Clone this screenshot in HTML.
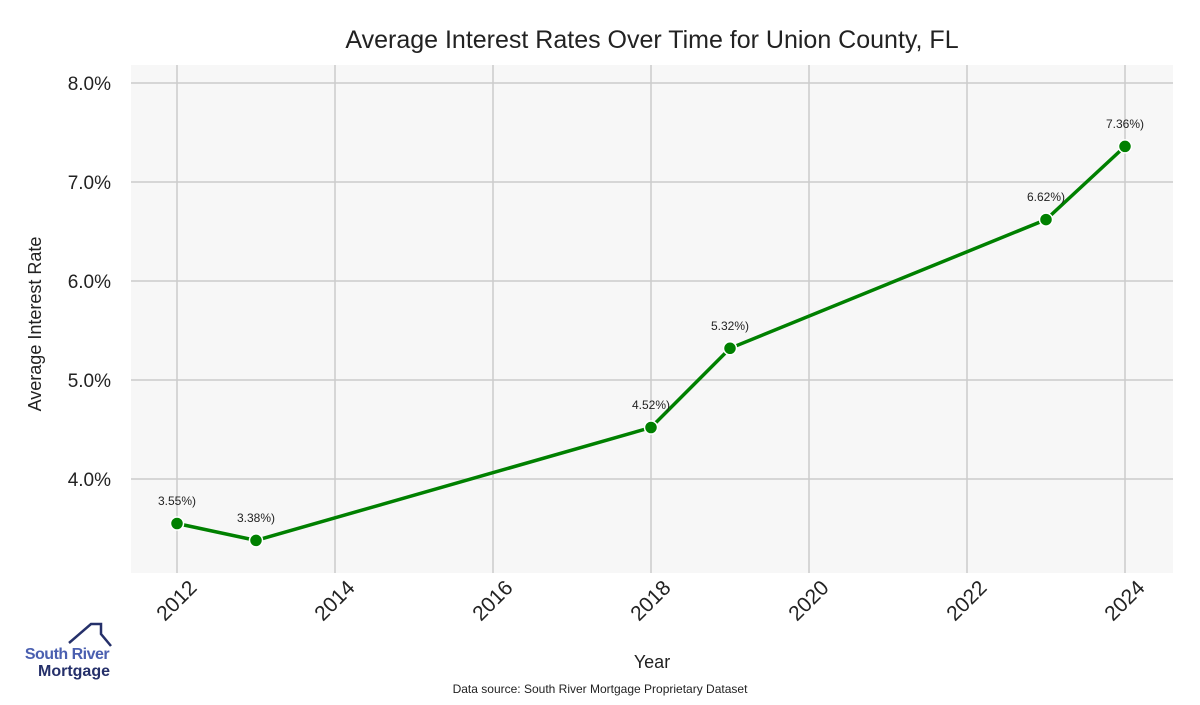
<!DOCTYPE html><html><head><style>body{margin:0;background:#fff}svg{font-family:"Liberation Sans",sans-serif}</style></head><body>
<svg width="1200" height="700" xmlns="http://www.w3.org/2000/svg">
<rect width="1200" height="700" fill="#fff"/>
<rect x="131" y="65" width="1042" height="508" fill="#f7f7f7"/>
<g stroke="#cccccc" stroke-width="1.5">
<line x1="131" x2="1173" y1="83" y2="83"/><line x1="131" x2="1173" y1="182" y2="182"/><line x1="131" x2="1173" y1="281" y2="281"/><line x1="131" x2="1173" y1="380" y2="380"/><line x1="131" x2="1173" y1="479" y2="479"/>
<line x1="177" x2="177" y1="65" y2="573"/><line x1="335" x2="335" y1="65" y2="573"/><line x1="493" x2="493" y1="65" y2="573"/><line x1="651" x2="651" y1="65" y2="573"/><line x1="809" x2="809" y1="65" y2="573"/><line x1="967" x2="967" y1="65" y2="573"/><line x1="1125" x2="1125" y1="65" y2="573"/>
</g>
<text x="652" y="48" text-anchor="middle" font-size="25" fill="#222">Average Interest Rates Over Time for Union County, FL</text>
<g font-size="19" fill="#222" text-anchor="end">
<text x="111" y="90">8.0%</text><text x="111" y="189">7.0%</text><text x="111" y="288">6.0%</text><text x="111" y="387">5.0%</text><text x="111" y="486">4.0%</text></g>
<g font-size="21" fill="#222" text-anchor="end">
<text transform="translate(198,589) rotate(-45)">2012</text><text transform="translate(356,589) rotate(-45)">2014</text><text transform="translate(514,589) rotate(-45)">2016</text><text transform="translate(672,589) rotate(-45)">2018</text><text transform="translate(830,589) rotate(-45)">2020</text><text transform="translate(988,589) rotate(-45)">2022</text><text transform="translate(1146,589) rotate(-45)">2024</text></g>
<text x="652" y="668" text-anchor="middle" font-size="18" fill="#222">Year</text>
<text transform="translate(41,324) rotate(-90)" text-anchor="middle" font-size="18" fill="#222">Average Interest Rate</text>
<polyline fill="none" stroke="#008000" stroke-width="3.5" points="177,523.5 256,540.4 651,427.5 730,348.3 1046,219.6 1125,146.4"/>
<g fill="#008000" stroke="#fff" stroke-width="1.5">
<circle cx="177" cy="523.5" r="6.5"/><circle cx="256" cy="540.4" r="6.5"/><circle cx="651" cy="427.5" r="6.5"/><circle cx="730" cy="348.3" r="6.5"/><circle cx="1046" cy="219.6" r="6.5"/><circle cx="1125" cy="146.4" r="6.5"/></g>
<g font-size="12" fill="#222" text-anchor="middle">
<text x="177" y="505">3.55%)</text><text x="256" y="522">3.38%)</text><text x="651" y="409">4.52%)</text><text x="730" y="330">5.32%)</text><text x="1046" y="201">6.62%)</text><text x="1125" y="128">7.36%)</text></g>
<text x="600" y="693" text-anchor="middle" font-size="12" fill="#222">Data source: South River Mortgage Proprietary Dataset</text>
<polyline fill="none" stroke="#25306a" stroke-width="2.5" points="69,643 91,624 101,624 101,634 111,646"/>
<text x="67" y="659" text-anchor="middle" font-size="16" font-weight="bold" fill="#4a5fb0" letter-spacing="-0.5">South River</text>
<text x="74" y="676" text-anchor="middle" font-size="16" font-weight="bold" fill="#25306a">Mortgage</text>
</svg></body></html>
